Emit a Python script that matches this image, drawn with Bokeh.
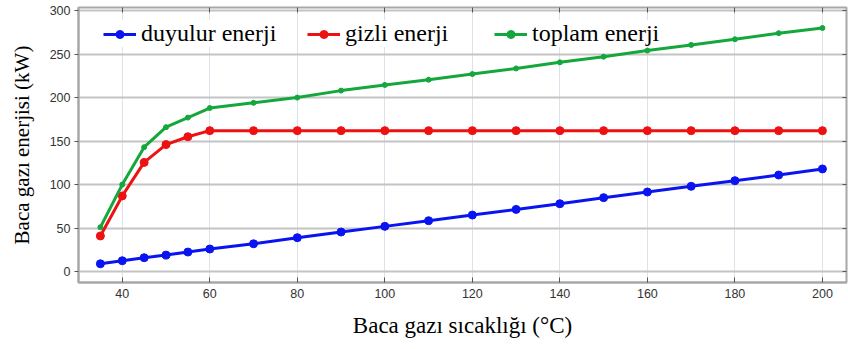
from bokeh.plotting import figure
from bokeh.models import (Legend, LegendItem, LinearAxis, FixedTicker, Range1d, CustomJSTickFormatter)
from bokeh.embed import file_html
from bokeh.resources import INLINE

x_temp = [35, 40, 45, 50, 55, 60, 70, 80, 90, 100, 110, 120, 130, 140, 150, 160, 170, 180, 190, 200]
duyulur = [9, 12.5, 16, 19, 22.5, 26, 32, 39, 45.5, 52, 58.5, 65, 71.5, 78, 85, 91.5, 98, 104.5, 111, 118]
gizli = [41, 87, 125.5, 146, 155, 162, 162, 162, 162, 162, 162, 162, 162, 162, 162, 162, 162, 162, 162, 162]
toplam = [51, 100, 143, 166, 177, 188, 194, 200, 208, 214.5, 220.5, 227, 233.5, 240.5, 247, 254, 260.5, 267, 274, 280]
x_ticks = [40, 60, 80, 100, 120, 140, 160, 180, 200]
y_ticks = [0, 50, 100, 150, 200, 250, 300]

p = figure(width=848, height=349, output_backend="svg", toolbar_location=None,
           x_range=Range1d(30, 205.5), y_range=Range1d(-12.5, 303.5),
           min_border_left=78, min_border_right=2, min_border_top=7, min_border_bottom=67)
p.background_fill_color = "white"
p.border_fill_color = "white"
p.outline_line_color = "#a8a8a8"
p.outline_line_width = 2

serif = "Liberation Serif"
tickfont = "Liberation Sans"

p.xaxis.ticker = FixedTicker(ticks=x_ticks)
p.yaxis.ticker = FixedTicker(ticks=y_ticks)
for ax in (p.xaxis[0], p.yaxis[0]):
    ax.axis_line_color = "#a8a8a8"
    ax.axis_line_width = 2
    ax.major_tick_line_color = "#555555"
    ax.minor_tick_line_color = None
    ax.major_label_text_font = tickfont
    ax.major_label_text_font_size = "12.5px"
    ax.major_label_text_color = "#333333"
    ax.axis_label_text_font = serif
    ax.axis_label_text_font_style = "normal"
    ax.axis_label_text_color = "black"

p.xaxis.axis_label_text_font_size = "23px"
p.yaxis.axis_label_text_font_size = "21px"
p.xaxis.major_tick_in = 5
p.xaxis.major_tick_out = 0
p.yaxis.major_tick_in = 0
p.yaxis.major_tick_out = 4
p.xaxis.major_label_standoff = 6
p.yaxis.major_label_standoff = 4
p.xaxis.axis_label = "Baca gazı sıcaklığı (°C)"
p.yaxis.axis_label = "Baca gazı enerjisi (kW)"
p.xaxis.axis_label_standoff = 12
p.yaxis.axis_label_standoff = 13

blank = CustomJSTickFormatter(code="return '';")
top_ax = LinearAxis(ticker=FixedTicker(ticks=x_ticks), formatter=blank,
                    major_tick_in=5, major_tick_out=0, minor_tick_line_color=None,
                    axis_line_color=None, major_tick_line_color="#555555")
p.add_layout(top_ax, "above")
right_ax = LinearAxis(ticker=FixedTicker(ticks=y_ticks), formatter=blank,
                      major_tick_in=4, major_tick_out=0, minor_tick_line_color=None,
                      axis_line_color=None, major_tick_line_color="#555555")
p.add_layout(right_ax, "right")

p.xgrid.grid_line_color = "#dde1ec"
p.xgrid.grid_line_width = 1
p.ygrid.grid_line_color = "#c4c4c4"
p.ygrid.grid_line_width = 2

series = [
    (duyulur, "#0a14f0", "duyulur enerji", 8),
    (gizli, "#ee1111", "gizli enerji", 8),
    (toplam, "#14a83c", "toplam enerji", 5),
]
items = []
for vals, col, name, ms in series:
    l = p.line(x_temp, vals, line_color=col, line_width=3)
    s = p.scatter(x_temp, vals, size=ms, fill_color=col, line_color=col, marker="circle")
    items.append(LegendItem(label=name, renderers=[l, s]))

xs = [25, 229, 416]
for it, xo in zip(items, xs):
    lg = Legend(items=[it], location=(xo, 235), padding=0, margin=0, spacing=0,
                glyph_width=33, glyph_height=20, label_height=20, label_standoff=5,
                label_text_font=serif, label_text_font_size="24px", label_text_color="black",
                label_text_font_style="normal",
                border_line_color=None, background_fill_color="white", background_fill_alpha=1.0)
    p.add_layout(lg, "center")

open("out.html", "w").write(file_html(p, INLINE))
